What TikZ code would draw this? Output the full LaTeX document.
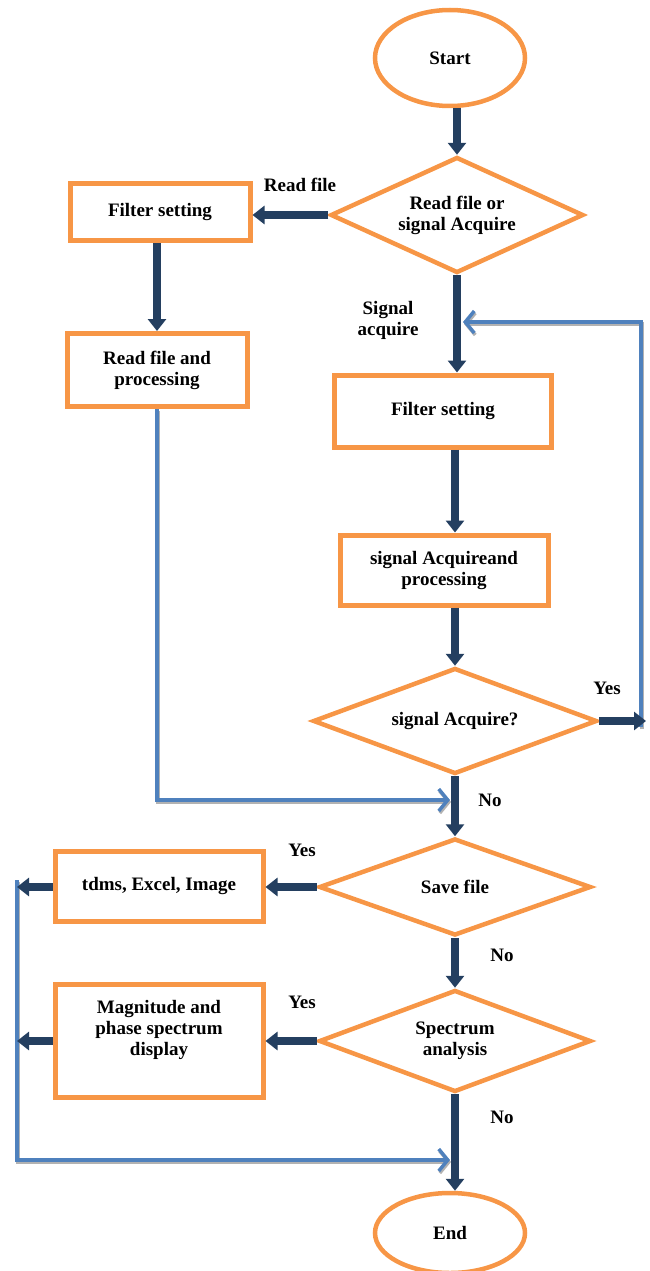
\documentclass[tikz,border=0pt]{standalone}
\usepackage{fontspec}
\setmainfont{Liberation Serif}
\usetikzlibrary{shapes.geometric,arrows.meta}
\definecolor{orng}{HTML}{F79646}
\definecolor{navy}{HTML}{243F60}
\definecolor{lblue}{HTML}{4F81BD}
\begin{document}
\begin{tikzpicture}[x=1pt,y=-1pt,
 every node/.style={font=\bfseries\fontsize{19}{21}\selectfont, align=center, text=black},
 box/.style={draw=orng, line width=5pt, rectangle, inner sep=0pt},
 dec/.style={draw=orng, line width=4.5pt, diamond, inner sep=0pt, aspect=2.3},
 term/.style={draw=orng, line width=4.5pt, ellipse, inner sep=0pt},
 darr/.style={draw=navy, line width=8pt, -{Triangle[width=18pt,length=12pt]}},
 barr/.style={draw=lblue, line width=3.5pt, -{Straight Barb[width=22pt,length=9pt,line width=3.5pt]},
   preaction={draw=black!30, line width=3.5pt, transform canvas={shift={(1pt,-2pt)}}}}
]
\useasboundingbox (0,0) rectangle (650,1271);
% nodes
\node[term, minimum width=150pt, minimum height=96pt] (start) at (450,58) {Start};
\node[dec, minimum width=253pt, minimum height=116pt] (d1) at (457,215) {Read file or\\signal Acquire};
\node[box, minimum width=180pt, minimum height=57pt] (fs1) at (160,212) {Filter setting};
\node[box, minimum width=180pt, minimum height=73pt] (rp1) at (157,370) {Read file and\\processing};
\node[box, minimum width=217pt, minimum height=72pt] (fs2) at (443,411) {Filter setting};
\node[box, minimum width=208pt, minimum height=70pt] (sa) at (444,570) {signal Acquireand\\processing};
\node[dec, minimum width=284pt, minimum height=106pt] (d2) at (455,721) {signal Acquire?};
\node[dec, minimum width=272pt, minimum height=97pt] (d3) at (455,887) {Save file};
\node[box, minimum width=208pt, minimum height=70pt] (tdms) at (159,886) {tdms, Excel, Image};
\node[dec, minimum width=272pt, minimum height=102pt] (d4) at (455,1041) {Spectrum\\analysis};
\node[box, minimum width=208pt, minimum height=113pt] (mag) at (159,1041) {};
\node (magt) at (159,1030) {Magnitude and\\phase spectrum\\display};
\node[term, minimum width=150pt, minimum height=80pt] (end) at (450,1233) {End};
% labels
\node (l1) at (300,185) {Read file};
\node (l2) at (388,320) {Signal\\acquire};
\node (l3) at (607,688) {Yes};
\node (l4) at (490,800) {No};
\node (l5) at (302,850) {Yes};
\node (l6) at (502,955) {No};
\node (l7) at (302,1002) {Yes};
\node (l8) at (502,1117) {No};
% coordinates
\coordinate (yesE) at (646,721);
\coordinate (fbS) at (641,727);
\coordinate (fbT) at (641,322);
\coordinate (fbE) at (463,322);
\coordinate (mA) at (450,800);
\coordinate (lT) at (17,880);
\coordinate (mB) at (450,1160);
% blue lines
\draw[barr] (rp1.south) |- (mA);
\draw[barr] (fbS) -- (fbT) -- (fbE);
\draw[barr] (lT) |- (mB);
% dark arrows
\draw[darr] (start.south -| d1.north) -- (d1.north);
\draw[darr] (d1.west) -- (d1.west -| fs1.east);
\draw[darr] (fs1.south -| rp1.north) -- (rp1.north);
\draw[darr] (d1.south) -- (d1.south |- fs2.north);
\draw[darr] (d2.north |- fs2.south) -- (d2.north |- sa.north);
\draw[darr] (d2.north |- sa.south) -- (d2.north);
\draw[darr] (d2.east) -- (yesE);
\draw[darr] (d2.south) -- (d3.north);
\draw[darr] (d3.west) -- (d3.west -| tdms.east);
\draw[darr] (tdms.west |- d3.west) -- (d3.west -| lT);
\draw[darr] (d3.south) -- (d4.north);
\draw[darr] (d4.west) -- (d4.west -| mag.east);
\draw[darr] (mag.west |- d4.west) -- (d4.west -| lT);
\draw[darr] (d4.south) -- (d4.south |- end.north);
\end{tikzpicture}
\end{document}
